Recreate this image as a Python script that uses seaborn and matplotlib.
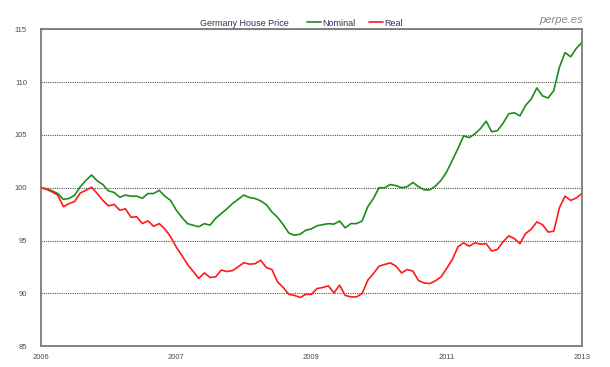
import pandas as pd
import matplotlib
matplotlib.use("Agg")
import matplotlib.pyplot as plt
import seaborn as sns

# monthly index values
nominal = [100.0, 99.9, 99.7, 99.45, 98.9, 98.98, 99.3, 100.1, 100.7, 101.2,
           100.65, 100.3, 99.7, 99.55, 99.1, 99.3, 99.2, 99.2, 99.0, 99.45,
           99.45, 99.75, 99.2, 98.8, 97.9, 97.2, 96.6, 96.45, 96.3, 96.6,
           96.45, 97.1, 97.55, 98.0, 98.5, 98.9, 99.3, 99.07, 98.98, 98.75,
           98.4, 97.7, 97.2, 96.5, 95.7, 95.5, 95.6, 95.97, 96.1, 96.4,
           96.5, 96.6, 96.55, 96.85, 96.2, 96.6, 96.6, 96.85, 98.2, 98.98,
           100.0, 100.0, 100.3, 100.2, 100.0, 100.1, 100.5, 100.1, 99.8, 99.8,
           100.15, 100.7, 101.5, 102.6, 103.7, 104.9, 104.75, 105.1, 105.6, 106.3,
           105.3, 105.4, 106.1, 107.0, 107.1, 106.8, 107.8, 108.4, 109.45, 108.7,
           108.5, 109.2, 111.4, 112.8, 112.4, 113.2, 113.75]
real = [100.0, 99.85, 99.6, 99.3, 98.2, 98.5, 98.7, 99.5, 99.76, 100.05,
        99.45, 98.8, 98.28, 98.42, 97.87, 98.0, 97.2, 97.25, 96.6, 96.86,
        96.35, 96.6, 96.1, 95.37, 94.4, 93.6, 92.75, 92.1, 91.4, 91.93,
        91.5, 91.55, 92.2, 92.06, 92.15, 92.5, 92.9, 92.76, 92.8, 93.13,
        92.44, 92.25, 91.08, 90.55, 89.9, 89.8, 89.6, 89.9, 89.9, 90.45,
        90.55, 90.7, 90.04, 90.77, 89.8, 89.66, 89.66, 89.98, 91.24, 91.87,
        92.57, 92.73, 92.88, 92.57, 91.93, 92.25, 92.1, 91.2, 90.98, 90.92,
        91.18, 91.55, 92.35, 93.2, 94.4, 94.78, 94.46, 94.78, 94.65, 94.7,
        94.0, 94.15, 94.87, 95.44, 95.19, 94.7, 95.66, 96.07, 96.76, 96.5,
        95.8, 95.88, 98.1, 99.2, 98.8, 99.03, 99.45]

x_ticks = [0, 24, 48, 72, 96]
x_labels = ["2006", "2007", "2009", "2011", "2013"]
y_ticks = [85, 90, 95, 100, 105, 110, 115]

df = pd.concat([
    pd.DataFrame({"t": range(len(nominal)), "value": nominal, "series": "Nominal"}),
    pd.DataFrame({"t": range(len(real)), "value": real, "series": "Real"}),
], ignore_index=True)

sns.set_style("white")
plt.rcParams["font.family"] = ["Liberation Sans", "DejaVu Sans"]

fig = plt.figure(figsize=(6.1, 3.67), dpi=100)
ax = fig.add_axes([0.067, 0.057, 0.887, 0.863])

sns.lineplot(data=df, x="t", y="value", hue="series",
             palette={"Nominal": "#1c8c1c", "Real": "#ff1a1a"},
             linewidth=1.2, ax=ax)

ax.set_xlim(0, 96)
ax.set_ylim(85, 115)
ax.set_xticks(x_ticks)
ax.set_xticklabels(x_labels)
ax.set_yticks(y_ticks)
ax.set_xlabel("")
ax.set_ylabel("")
ax.tick_params(axis="both", length=0, labelsize=5.5, labelcolor="#4a4a5a")
ax.tick_params(axis="y", pad=10)
ax.tick_params(axis="x", pad=6)
ax.grid(axis="y", linestyle=(0, (1, 1)), color="#555555", linewidth=0.8)
ax.grid(axis="x", visible=False)
for s in ax.spines.values():
    s.set_color("#7a7a7a")
    s.set_linewidth(1.3)

# legend above the plot, with title text to its left
handles, labels = ax.get_legend_handles_labels()
ax.legend(handles, labels, loc="center left", bbox_to_anchor=(0.49, 0.937),
          bbox_transform=fig.transFigure, ncol=2, frameon=False,
          handlelength=1.6, handletextpad=0.1, columnspacing=1.5,
          fontsize=6.5, labelcolor="#3d2a55")
fig.text(0.473, 0.937, "Germany House Price", ha="right", va="center",
         fontsize=6.5, color="#3d2a55")
fig.text(0.955, 0.945, "perpe.es", ha="right", va="center", fontsize=8,
         style="italic", color="#8a8a8a")

fig.savefig("out.png", dpi=100)
